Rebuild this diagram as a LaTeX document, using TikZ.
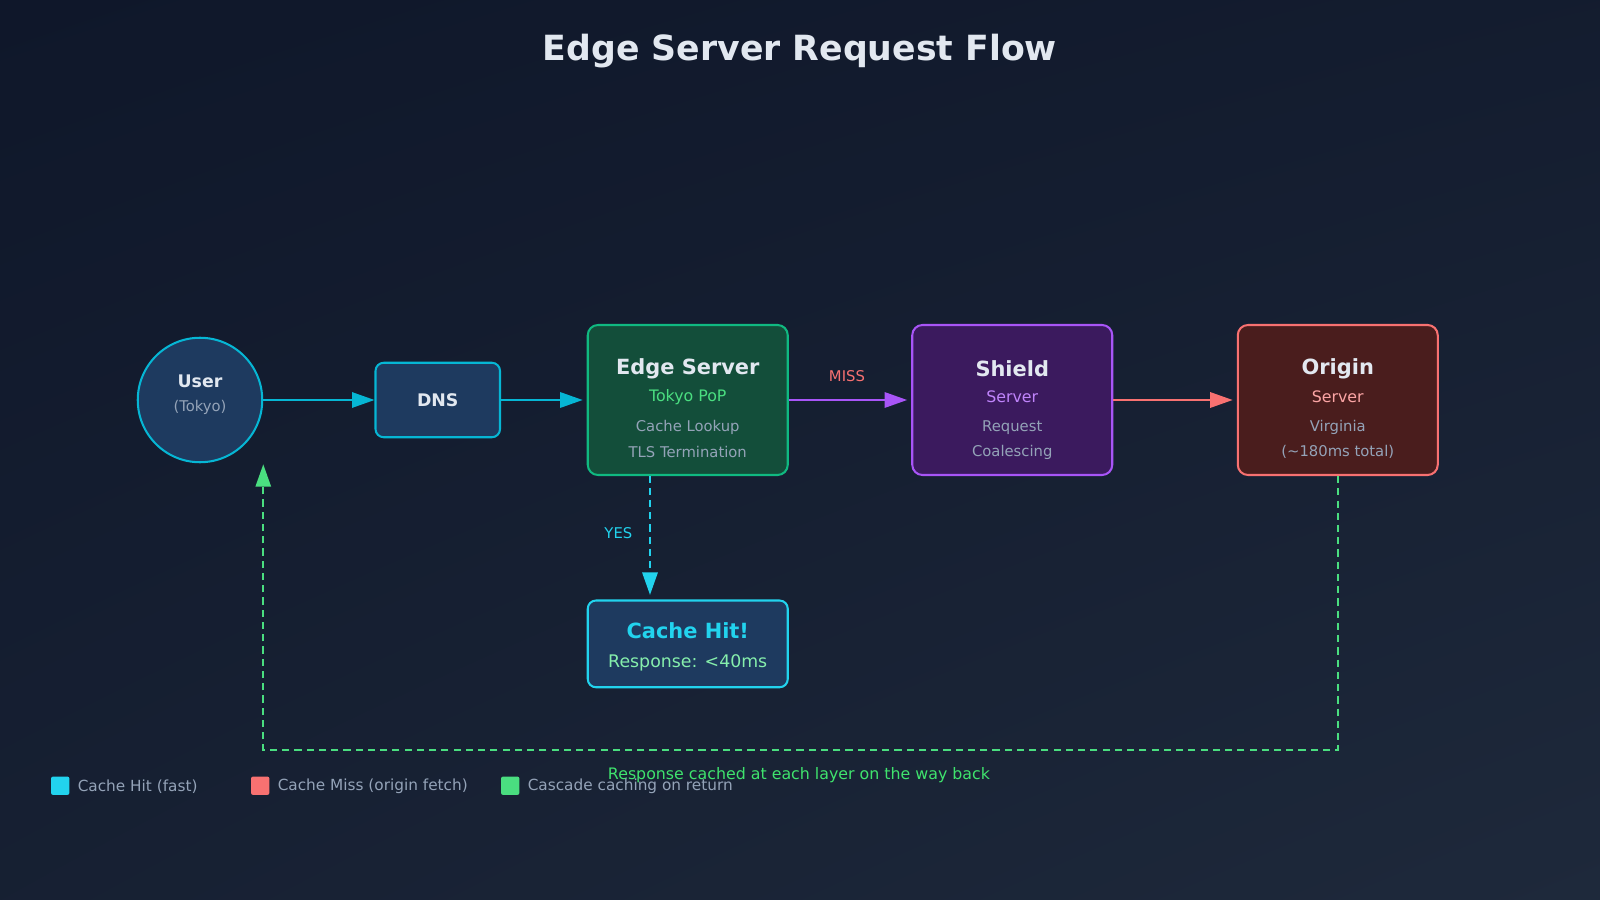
\documentclass[tikz,border=0pt]{standalone}
\usepackage{fontspec}
\setmainfont{DejaVu Sans}
\usetikzlibrary{arrows.meta,shadings}
\definecolor{bgA}{HTML}{0F172A}\definecolor{bgB}{HTML}{1E293B}
\definecolor{cyanS}{HTML}{06B6D4}\definecolor{cyanL}{HTML}{22D3EE}
\definecolor{blueF}{HTML}{1E3A5F}
\definecolor{grnS}{HTML}{10B981}\definecolor{grnF}{HTML}{134E3A}\definecolor{grnL}{HTML}{4ADE80}\definecolor{grnT}{HTML}{86EFAC}
\definecolor{purS}{HTML}{A855F7}\definecolor{purF}{HTML}{3B1A5E}\definecolor{purT}{HTML}{C084FC}
\definecolor{redS}{HTML}{F87171}\definecolor{redF}{HTML}{4A1D1D}\definecolor{redT}{HTML}{FCA5A5}
\definecolor{txtW}{HTML}{E2E8F0}\definecolor{txtG}{HTML}{94A3B8}
\begin{document}
\begin{tikzpicture}[x=1pt,y=-1pt,
 box/.style={draw,line width=2pt,rounded corners=10pt,minimum width=196pt,minimum height=147pt,inner sep=0},
 ttl/.style={text=txtW,font=\fontsize{20.5}{24}\selectfont\bfseries},
 sub/.style={font=\fontsize{15.5}{18}\selectfont},
 sml/.style={text=txtG,font=\fontsize{14.5}{17}\selectfont},
 arr/.style={line width=2pt,-{Triangle[length=22pt,width=15pt]}},
 dsh/.style={line width=2pt,dash pattern=on 7pt off 5pt}]
\shade[upper left=bgA,upper right=bgA!70!bgB,lower left=bgA!50!bgB,lower right=bgB] (0,0) rectangle (1568,882);
\useasboundingbox (0,0) rectangle (1568,882);
\node[text=txtW,font=\fontsize{34}{40}\selectfont\bfseries] (title) at (784,50) {Edge Server Request Flow};
% nodes
\node[circle,draw=cyanS,fill=blueF,line width=2pt,minimum size=122pt,inner sep=0] (user) at (196,392) {};
\node[ttl,font=\fontsize{17}{20}\selectfont\bfseries] (userT) at (196,374) {User};
\node[sml] (userS) at (196,399) {(Tokyo)};
\node[box,draw=cyanS,fill=blueF,minimum width=122pt,minimum height=73pt,rounded corners=8pt] (dns) at (429,392) {};
\node[ttl,font=\fontsize{17}{20}\selectfont\bfseries] (dnsT) at (429,392) {DNS};
\node[box,draw=grnS,fill=grnF] (edge) at (674,392) {};
\node[ttl] (edgeT) at (674,361) {Edge Server};
\node[sub,text=grnL] (edgeS) at (674,389) {Tokyo PoP};
\node[sml] (edgeA) at (674,419) {Cache Lookup};
\node[sml] (edgeB) at (674,443) {TLS Termination};
\node[box,draw=purS,fill=purF] (shield) at (992,392) {};
\node[ttl] (shT) at (992,361) {Shield};
\node[sub,text=purT] (shS) at (992,389) {Server};
\node[sml] (shA) at (992,419) {Request};
\node[sml] (shB) at (992,443) {Coalescing};
\node[box,draw=redS,fill=redF] (origin) at (1311,392) {};
\node[ttl] (orT) at (1311,361) {Origin};
\node[sub,text=redT] (orS) at (1311,389) {Server};
\node[sml] (orA) at (1311,419) {Virginia};
\node[sml] (orB) at (1311,443) {(\textasciitilde180ms total)};
\node[box,draw=cyanL,fill=blueF,minimum height=85pt,rounded corners=8pt] (hit) at (674,631) {};
\node[text=cyanL,font=\fontsize{20.5}{24}\selectfont\bfseries] (hitT) at (674,618) {Cache Hit!};
\node[sub,text=grnT,font=\fontsize{17}{20}\selectfont] (hitS) at (674,650) {Response: <40ms};
% connectors
\coordinate (uR) at (258,392);
\draw[arr,cyanS] (uR) -- (dns.west);
\draw[arr,cyanS] (dns.east) -- ([xshift=-4pt]edge.west);
\draw[arr,purS] (edge.east) -- ([xshift=-4pt]shield.west);
\node[text=redS,font=\fontsize{14.5}{17}\selectfont] (miss) at (830,369) {MISS};
\draw[arr,redS] (shield.east) -- ([xshift=-4pt]origin.west);
\coordinate (yT) at (637,466);
\coordinate (yB) at (637,583);
\draw[arr,dsh,cyanL] (yT) -- (yB);
\node[text=cyanL,font=\fontsize{14.5}{17}\selectfont] (yes) at (606,522) {YES};
\coordinate (c1) at (1311,735);
\coordinate (c2) at (258,735);
\coordinate (c3) at (258,455);
\draw[dsh,grnL,line width=2pt,-{Triangle[length=22pt,width=15pt]}] (origin.south) -- (c1) -- (c2) -- (c3);
\node[text=grnL!85!green,font=\fontsize{15.5}{18}\selectfont] (resp) at (783,760) {Response cached at each layer on the way back};
% legend
\tikzset{lg/.style={rounded corners=2pt,minimum size=18pt,inner sep=0},lt/.style={text=txtG,font=\fontsize{15}{18}\selectfont,anchor=west,inner sep=0}}
\node[lg,fill=cyanL] (l1) at (59,770) {};
\node[lt] (l1t) at (76,771) {Cache Hit (fast)};
\node[lg,fill=redS] (l2) at (255,770) {};
\node[lt] (l2t) at (272,771) {Cache Miss (origin fetch)};
\node[lg,fill=grnL] (l3) at (500,770) {};
\node[lt] (l3t) at (517,771) {Cascade caching on return};
\end{tikzpicture}
\end{document}
